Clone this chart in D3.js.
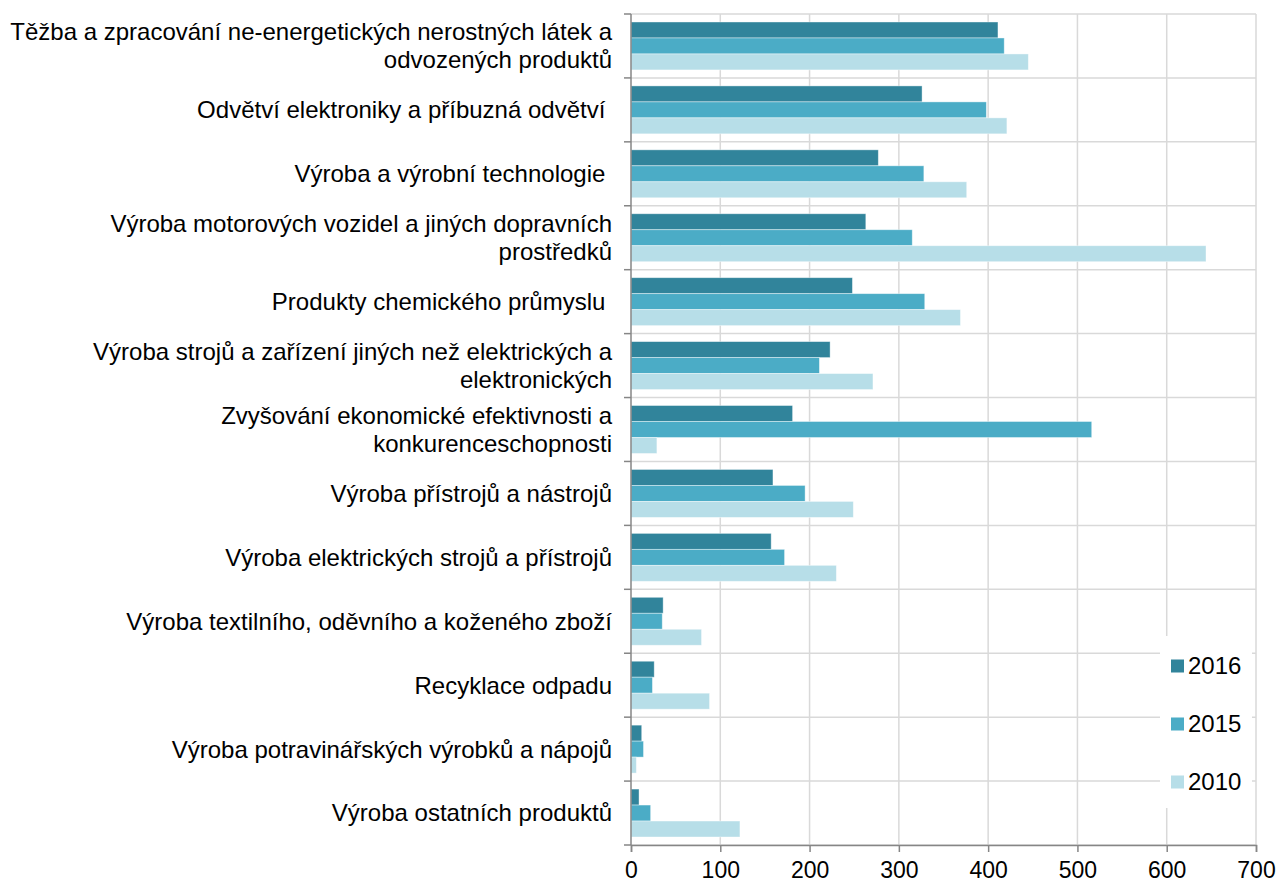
<!DOCTYPE html>
<html>
<head>
<meta charset="utf-8">
<script src="https://cdn.jsdelivr.net/npm/d3@7"></script>
<style>
  body { margin: 0; background: #fff; }
  text { font-family: "Liberation Sans", Arial, sans-serif; fill: #000; white-space: pre; }
</style>
</head>
<body>
<div id="chart"></div>
<script>
// categories, top to bottom (\n = line break in label)
var categories = [
  "Těžba a zpracování ne-energetických nerostných látek a\nodvozených produktů",
  "Odvětví elektroniky a příbuzná odvětví ",
  "Výroba a výrobní technologie ",
  "Výroba motorových vozidel a jiných dopravních\nprostředků",
  "Produkty chemického průmyslu ",
  "Výroba strojů a zařízení jiných než elektrických a\nelektronických",
  "Zvyšování ekonomické efektivnosti a\nkonkurenceschopnosti",
  "Výroba přístrojů a nástrojů",
  "Výroba elektrických strojů a přístrojů",
  "Výroba textilního, oděvního a koženého zboží",
  "Recyklace odpadu",
  "Výroba potravinářských výrobků a nápojů",
  "Výroba ostatních produktů"
];
var years = ["2016", "2015", "2010"];
var v2016 = [411, 326, 277, 263, 248, 223, 181, 159, 157, 36, 26, 12, 9];
var v2015 = [418, 398, 328, 315, 329, 211, 516, 195, 172, 35, 24, 14, 22];
var v2010 = [445, 421, 376, 644, 369, 271, 29, 249, 230, 79, 88, 6, 122];
var xTicks = [0, 100, 200, 300, 400, 500, 600, 700];
var colors = ["#31849b", "#4bacc6", "#b7dee8"];

var series = [v2016, v2015, v2010];
var rows = categories.map(function(c, i) {
  return {cat: c, vals: years.map(function(y, j) { return {year: y, value: series[j][i]}; })};
});

var W = 1277, H = 884;
var margin = {top: 14, right: 21, bottom: 39, left: 631};
var width = W - margin.left - margin.right,
    height = H - margin.top - margin.bottom;

var svg = d3.select("#chart").append("svg")
  .attr("width", W).attr("height", H);
var g = svg.append("g")
  .attr("transform", "translate(" + margin.left + "," + margin.top + ")");

var x = d3.scaleLinear().domain([0, 700]).range([0, width]);
var y = d3.scaleBand().domain(categories).range([0, height])
  .paddingInner(0.25).paddingOuter(0.125);
var y1 = d3.scaleBand().domain(years).range([0, y.bandwidth()]);
var color = d3.scaleOrdinal().domain(years).range(colors);

var step = y.step();
var bounds = categories.map(function(c) { return y(c) - step * 0.125; });
bounds.push(height);

// vertical gridlines
g.selectAll(".vgrid").data(xTicks.slice(1)).enter().append("line")
  .attr("x1", d => x(d)).attr("x2", d => x(d))
  .attr("y1", 0).attr("y2", height)
  .attr("stroke", "#d9d9d9").attr("stroke-width", 1.5);

// horizontal gridlines at category boundaries
g.selectAll(".hgrid").data(bounds).enter().append("line")
  .attr("x1", 0).attr("x2", width)
  .attr("y1", d => d).attr("y2", d => d)
  .attr("stroke", "#d9d9d9").attr("stroke-width", 1.5);

// bars
var grp = g.selectAll(".grp").data(rows).enter().append("g")
  .attr("transform", d => "translate(0," + y(d.cat) + ")");
grp.selectAll("rect").data(d => d.vals).enter().append("rect")
  .attr("x", 0)
  .attr("y", d => y1(d.year))
  .attr("width", d => x(d.value))
  .attr("height", y1.bandwidth())
  .attr("fill", d => color(d.year))
  .attr("stroke", "#ffffff").attr("stroke-opacity", 0.5).attr("stroke-width", 0.8);

// left axis
g.append("line").attr("x1", 0).attr("x2", 0).attr("y1", 0).attr("y2", height)
  .attr("stroke", "#868686").attr("stroke-width", 1.5);
g.selectAll(".ltick").data(bounds).enter().append("line")
  .attr("x1", -7).attr("x2", 0).attr("y1", d => d).attr("y2", d => d)
  .attr("stroke", "#868686").attr("stroke-width", 1.5);

// category labels
var lab = g.selectAll(".lab").data(categories).enter().append("text")
  .attr("text-anchor", "end")
  .style("font-size", "24px")
  .attr("transform", d => "translate(-19," + (y(d) + y.bandwidth() / 2) + ")");
lab.each(function(d) {
  var lines = d.split("\n");
  var t = d3.select(this);
  var lh = 28;
  lines.forEach(function(l, i) {
    t.append("tspan").attr("x", 0)
      .attr("y", (i - (lines.length - 1) / 2) * lh)
      .attr("dy", "0.35em")
      .text(l);
  });
});

// bottom axis
var xa = g.append("g").attr("transform", "translate(0," + height + ")")
  .call(d3.axisBottom(x).tickValues(xTicks).tickSize(7).tickPadding(10));
xa.select(".domain").attr("stroke", "#868686").attr("stroke-width", 1.5);
xa.selectAll(".tick line").attr("stroke", "#868686").attr("stroke-width", 1.5);
xa.selectAll(".tick text").style("font-size", "23px")
  .style("font-family", "'Liberation Sans', Arial, sans-serif").attr("fill", "#000");

// legend
var leg = svg.append("g");
leg.append("rect").attr("x", 1160).attr("y", 636).attr("width", 92).attr("height", 172)
  .attr("fill", "#fff");
var legY = d3.scalePoint().domain(years).range([666, 782]);
leg.selectAll(".lsq").data(years).enter().append("rect")
  .attr("x", 1171).attr("y", d => legY(d) - 6.5)
  .attr("width", 13).attr("height", 13)
  .attr("fill", d => color(d));
leg.selectAll(".ltx").data(years).enter().append("text")
  .attr("x", 1188).attr("y", d => legY(d)).attr("dy", "0.35em")
  .style("font-size", "24px")
  .text(d => d);
</script>
</body>
</html>
